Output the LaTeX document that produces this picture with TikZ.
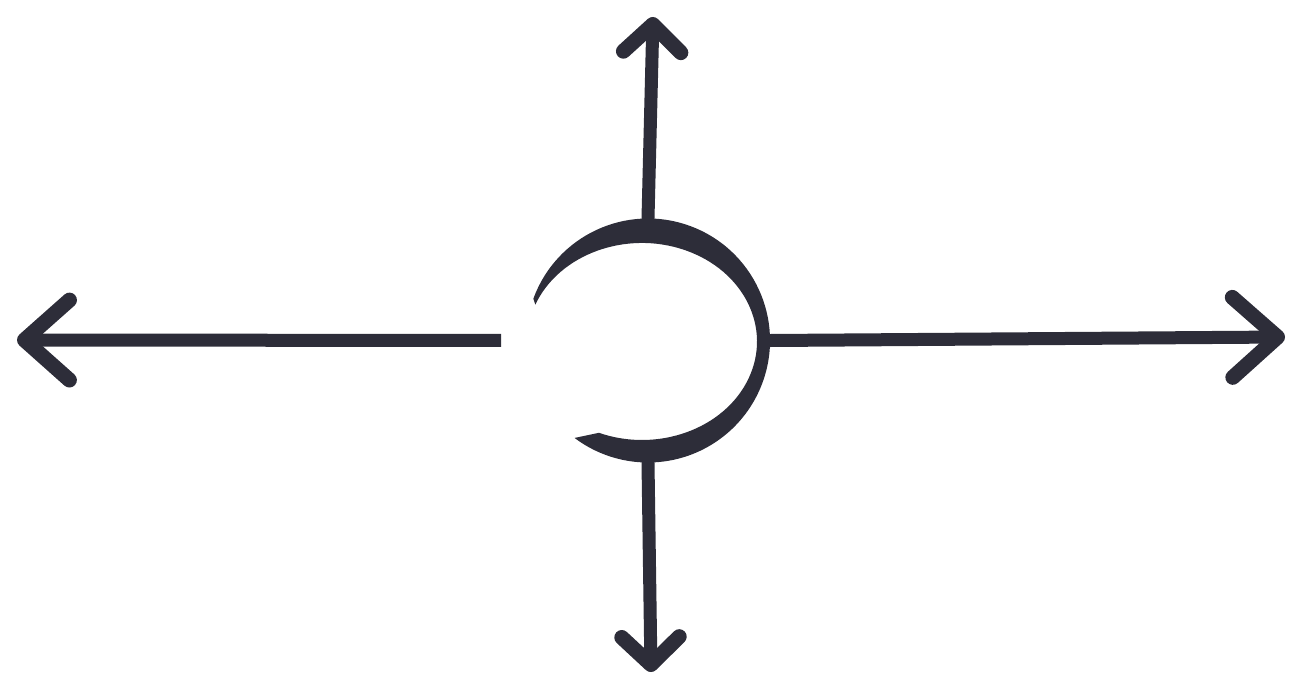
\documentclass[tikz,border=0pt]{standalone}
\usepackage{xcolor}
\usepackage{tikz}
\usetikzlibrary{arrows.meta,positioning}

\definecolor{ink}{HTML}{2D2D39}

\begin{document}
\begin{tikzpicture}[
    x=0.02cm, y=0.02cm,
    hub/.style={circle, minimum size=4.88cm, inner sep=0pt},
    brush/.style={draw=ink, line width=7.4pt, line cap=round, line join=round},
    widetip/.style={-{Straight Barb[length=0.9cm, width=1.6cm, line width=8.5pt, round]}},
    flattip/.style={-{Straight Barb[length=0.55cm, width=1.15cm, line width=8.5pt, round]}}
]
\useasboundingbox (0,0) rectangle (1294,681);

% Hub
\node[hub] (hub) at (648,340.5) {};

% Brush ring, open on the left
\fill[ink] (hub.center) ++(160:122) arc[start angle=160, end angle=-127, radius=122]
    -- (598.9,248.2) arc[start angle=-112, end angle=158, x radius=115, y radius=98.5] -- cycle;

% Ends
\coordinate (up) at (653,664);
\coordinate (down) at (651,9);
\coordinate (left) at (17,341);
\coordinate (right) at (1285,344);

% Arrows
\draw[brush, flattip] (hub.north) -- (up);
\draw[brush, flattip] (hub.south) -- (down);
\draw[brush, widetip, line cap=butt, shorten <=14] (hub.west) -- (left);
\draw[brush, widetip] (hub.east) -- (right);

\end{tikzpicture}
\end{document}
